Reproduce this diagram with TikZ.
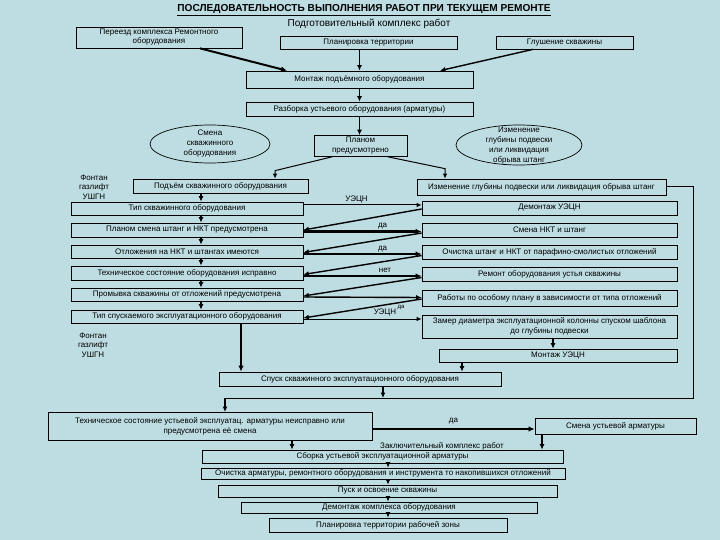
\documentclass[tikz,border=0pt]{standalone}
\usepackage{fontspec}
\setmainfont{Liberation Sans}
\usetikzlibrary{shapes.geometric,arrows.meta,calc}
\definecolor{bg}{RGB}{190,221,226}
\begin{document}
\begin{tikzpicture}[x=1pt,y=-1pt,
  txt/.style={font=\fontsize{8}{9}\selectfont},
  box/.style={draw, line width=0.7pt, rectangle, inner sep=0pt, align=center, txt},
  wh/.style 2 args={minimum width=#1pt, minimum height=#2pt},
  ell/.style={draw, ellipse, line width=0.7pt, inner sep=0pt},
  lbl/.style={inner sep=0pt, align=center, txt},
  arr/.style={line width=1pt, -{Latex[length=5pt,width=4.5pt]}},
  marr/.style={line width=1.4pt, -{Latex[length=5.5pt,width=5pt]}},
  tarr/.style={line width=2pt, -{Latex[length=6pt,width=5.5pt]}},
  ln/.style={line width=1pt}]
\fill[bg] (0,0) rectangle (720,540);
\useasboundingbox (0,0) rectangle (720,540);

% titles
\node[inner sep=0pt, font=\fontsize{10.1}{12}\selectfont\bfseries] (title) at (364,10)
  {\underline{ПОСЛЕДОВАТЕЛЬНОСТЬ ВЫПОЛНЕНИЯ РАБОТ ПРИ ТЕКУЩЕМ РЕМОНТЕ}};
\node[inner sep=0pt, font=\fontsize{10}{12}\selectfont] (podg) at (369,24) {Подготовительный комплекс работ};

% top boxes
\node[box, wh={166}{21}] (pereezd) at (159,37.5) {Переезд комплекса Ремонтного\\оборудования};
\node[box, wh={177}{13}] (plan) at (368.5,42.5) {Планировка территории};
\node[box, wh={137}{13}] (glush) at (564.5,42.5) {Глушение скважины};
\node[box, wh={227}{17}] (montazh) at (359.5,79.5) {Монтаж подъёмного оборудования};
\node[box, wh={227}{14}] (razborka) at (359.5,109) {Разборка устьевого оборудования (арматуры)};

\node[ell, minimum width=120pt, minimum height=38pt] (e1) at (210,144) {};
\node[lbl, font=\fontsize{8}{10}\selectfont] (e1t) at (e1.center) {Смена\\скважинного\\оборудования};
\node[box, wh={93}{21}, font=\fontsize{8}{10}\selectfont] (planom) at (360.5,146) {Планом\\предусмотрено};
\node[ell, minimum width=126pt, minimum height=40pt] (e2) at (519,145) {};
\node[lbl, font=\fontsize{8}{10}\selectfont] (e2t) at (519,146) {Изменение\\глубины подвески\\или ликвидация\\обрыва штанг};

\node[box, wh={175}{14}] (podem) at (220.5,186) {Подъём скважинного оборудования};
\node[box, wh={249}{16}] (izmen) at (541.5,187) {Изменение глубины подвески или ликвидация обрыва штанг};

\node[lbl, font=\fontsize{8}{9.5}\selectfont] (f1) at (94,187) {Фонтан\\газлифт\\УШГН};
\node[lbl, font=\fontsize{8}{9.5}\selectfont] (f2) at (93,345) {Фонтан\\газлифт\\УШГН};

% left column
\node[box, wh={232}{13}] (L1) at (187,208.5) {Тип скважинного оборудования};
\node[box, wh={232}{14}] (L2) at (187,230) {Планом смена штанг и НКТ предусмотрена};
\node[box, wh={232}{13}] (L3) at (187,251.5) {Отложения на НКТ и штангах имеются};
\node[box, wh={232}{14}] (L4) at (187,273) {Техническое состояние  оборудования исправно};
\node[box, wh={232}{13}] (L5) at (187,294.5) {Промывка скважины от отложений предусмотрена};
\node[box, wh={232}{13}] (L6) at (187,316.5) {Тип спускаемого эксплуатационного оборудования};

% right column
\node[box, wh={255}{14}] (R1) at (549.5,208) {Демонтаж УЭЦН};
\node[box, wh={255}{14}] (R2) at (549.5,230) {Смена НКТ и штанг};
\node[box, wh={255}{14}] (R3) at (549.5,252) {Очистка штанг и НКТ  от парафино-смолистых  отложений};
\node[box, wh={255}{14}] (R4) at (549.5,274) {Ремонт оборудования устья скважины};
\node[box, wh={255}{16}] (R5) at (549.5,298) {Работы по особому плану в зависимости от типа отложений};
\node[box, wh={255}{23}, font=\fontsize{8}{10}\selectfont] (R6) at (549.5,326.5) {Замер диаметра эксплуатационной колонны спуском шаблона\\до глубины подвески};
\node[box, wh={238}{13}] (R7) at (558,355.5) {Монтаж УЭЦН};

% lower part
\node[box, wh={282}{14}] (spusk) at (360,379) {Спуск скважинного эксплуатационного оборудования};
\node[box, wh={324}{28}, font=\fontsize{8}{10}\selectfont] (techust) at (210,426) {Техническое состояние устьевой эксплуатац. арматуры неисправно или\\предусмотрена её смена};
\node[box, wh={161}{16}] (smenaust) at (615.5,426) {Смена устьевой арматуры};
\node[lbl] (zakl) at (442,446) {Заключительный комплекс работ};
\node[box, wh={361}{13}] (sborka) at (382.5,456.5) {Сборка устьевой эксплуатационной арматуры};
\node[box, wh={364}{11}] (ochist) at (383,473.5) {Очистка арматуры, ремонтного оборудования и инструмента то накопившихся отложений};
\node[box, wh={339}{12}] (pusk) at (387.5,491) {Пуск и освоение скважины};
\node[box, wh={296}{11}] (demk) at (389,507.5) {Демонтаж комплекса оборудования};
\node[box, wh={238}{14}] (planterr) at (388,525) {Планировка территории рабочей зоны};

\coordinate (cR) at (693,398);
\coordinate (cL) at (225,398);
\coordinate (cI) at (693,187);
\coordinate (sp1) at (383,386);
\coordinate (sp2) at (383,398);
\coordinate (tu1) at (225,412);

% top connectors
\draw[tarr] ($(pereezd.south)+(41,0)$) -- ($(montazh.north)+(-72.5,0)$);
\draw[marr] (plan.south -| montazh.north) -- (montazh.north);
\draw[marr] ($(glush.south)+(-31.5,0)$) -- ($(montazh.north)+(80.5,0)$);
\draw[marr] (montazh.south) -- (razborka.north);
\draw[marr] (razborka.south) -- (razborka.south |- planom.north);
\draw[arr] ($(planom.south)+(-28.5,0)$) -- ($(podem.north)+(54.5,-8)$) -- ($(podem.north)+(54.5,0)$);
\draw[arr] ($(planom.south)+(27.5,0)$) -- ($(izmen.north)+(-96.5,-10)$) -- ($(izmen.north)+(-96.5,0)$);
\draw[marr] ($(podem.south)+(-19.5,0)$) -- ($(L1.north)+(14,0)$);

% left column arrows
\draw[marr] ($(L1.south)+(14,0)$) -- ($(L2.north)+(14,0)$);
\draw[marr] ($(L2.south)+(14,0)$) -- ($(L3.north)+(14,0)$);
\draw[marr] ($(L3.south)+(14,0)$) -- ($(L4.north)+(14,0)$);
\draw[marr] ($(L4.south)+(14,0)$) -- ($(L5.north)+(14,0)$);
\draw[marr] ($(L5.south)+(14,0)$) -- ($(L6.north)+(14,0)$);

% rows
\draw[arr] ($(L1.east)+(0,-3.5)$) -- node[lbl, above=1pt, pos=0.45] {УЭЦН} ($(R1.west)+(0,-3)$);
\draw[marr] ($(R1.west)+(0,1)$) -- (L2.east);
\draw[tarr] ($(L2.east)+(0,1.5)$) -- node[lbl, above=1pt, pos=0.67] {да} ($(R2.west)+(0,1.5)$);
\draw[marr] ($(R2.west)+(0,3)$) -- ($(L3.east)+(0,1)$);
\draw[tarr] ($(L3.east)+(0,2.5)$) -- node[lbl, above=1pt, pos=0.67] {да} ($(R3.west)+(0,2)$);
\draw[marr] ($(R3.west)+(0,3.5)$) -- ($(L4.east)+(0,1.5)$);
\draw[tarr] ($(L4.east)+(0,3)$) -- node[lbl, above=2pt, pos=0.69] {нет} ($(R4.west)+(0,2)$);
\draw[marr] ($(R4.west)+(0,3.5)$) -- ($(L5.east)+(0,1.5)$);
\draw[marr] ($(L5.east)+(0,2.5)$) -- ($(R5.west)+(0,-0.5)$);
\node[lbl, font=\fontsize{6}{7}\selectfont] (da5) at (401,307) {да};
\draw[marr] ($(R5.west)+(0,1)$) -- ($(L6.east)+(0,1.5)$);
\draw[arr] ($(L6.east)+(0,2.5)$) -- ($(R6.west)+(0,-7.5)$);
\node[lbl] (u6) at (385,313) {УЭЦН};

\draw[marr] ($(R6.south)+(3.5,0)$) -- ($(R7.north)+(-5,0)$);
\draw[marr] ($(R7.south)+(-96,0)$) -- ($(spusk.north)+(102,0)$);
\draw[tarr] ($(L6.south)+(54,0)$) -- ($(spusk.north)+(-119,0)$);

% right vertical and merge
\draw[ln] (izmen.east) -- (cI) -- (cR) -- (cL);
\draw[marr] (cL) -- (tu1);
\draw[marr] (sp1) -- (sp2);

% lower part
\draw[tarr] ($(techust.east)+(0,3)$) -- node[lbl, above=4pt] {да} ($(smenaust.west)+(0,3)$);
\draw[marr] ($(smenaust.south)+(-73.5,0)$) -- ($(sborka.north)+(159.5,0)$);
\draw[marr] ($(techust.south)+(82,0)$) -- ($(sborka.north)+(-90.5,0)$);
\draw[marr] ($(sborka.south)+(5.5,0)$) -- ($(ochist.north)+(5,0)$);
\draw[marr] ($(ochist.south)+(5,0)$) -- ($(pusk.north)+(0.5,0)$);
\draw[marr] ($(pusk.south)+(0.5,0)$) -- ($(demk.north)+(-1,0)$);
\draw[marr] ($(demk.south)+(-1,0)$) -- (planterr.north);
\end{tikzpicture}
\end{document}
